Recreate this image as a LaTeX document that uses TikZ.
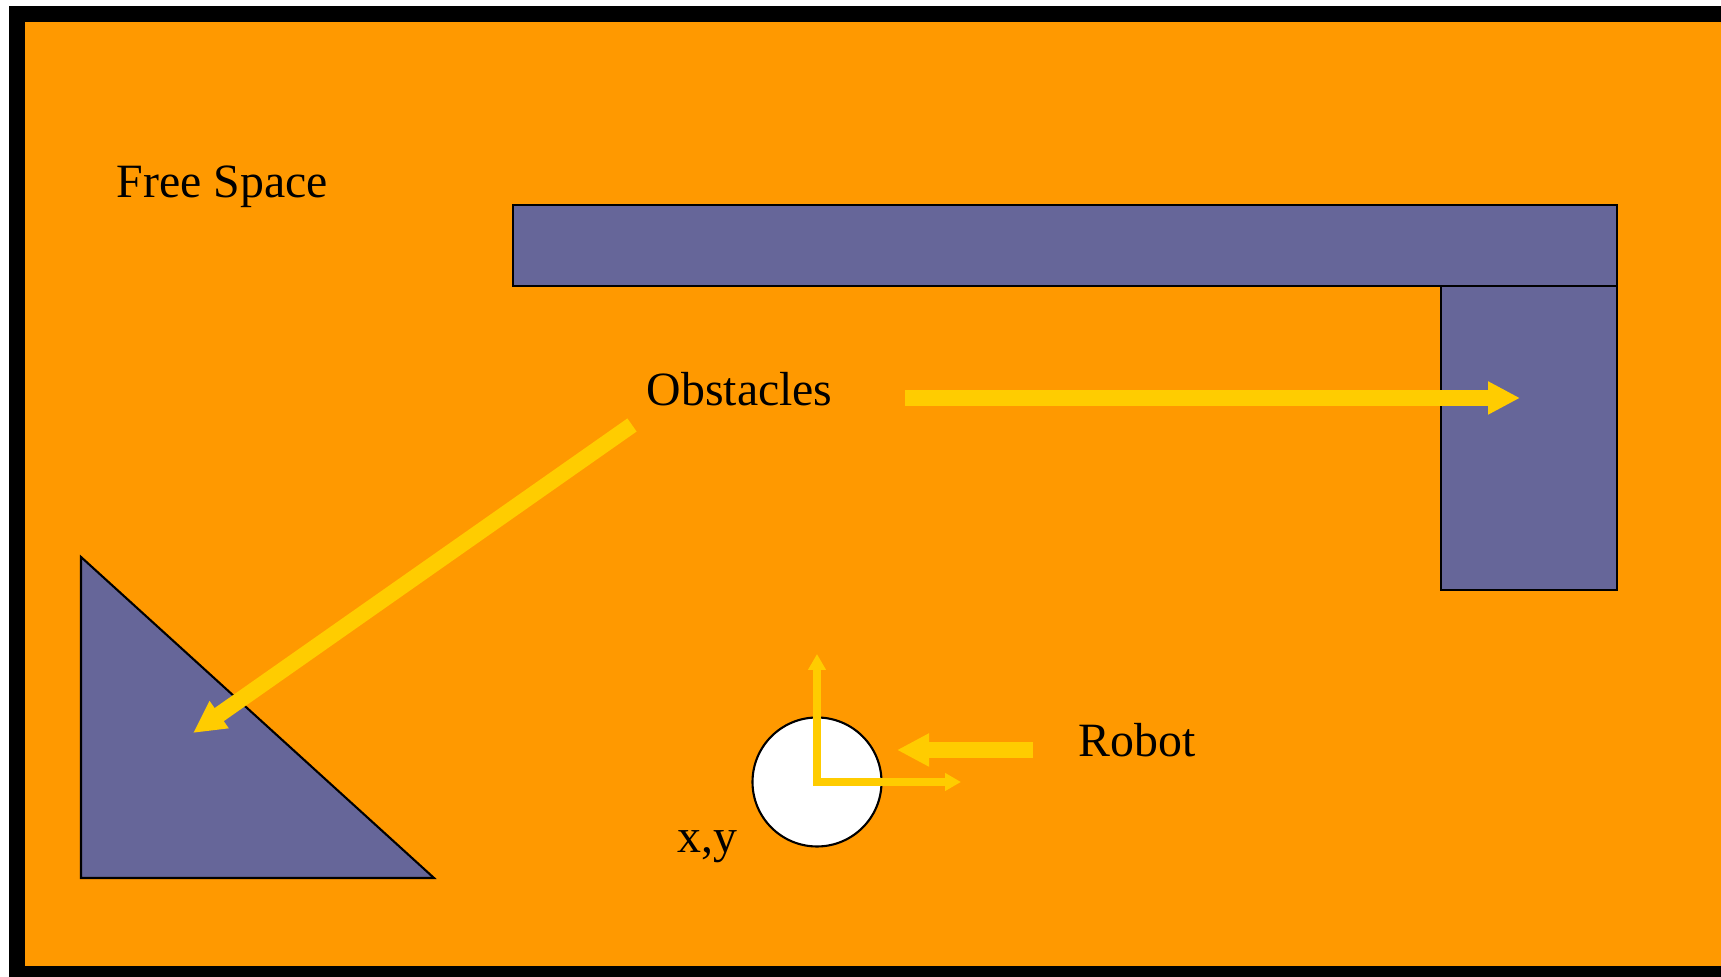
\documentclass[tikz,border=0pt]{standalone}
\usepackage{fontspec}
\setmainfont{Liberation Serif}
\usetikzlibrary{arrows.meta}

\definecolor{field}{HTML}{FF9900}
\definecolor{wall}{HTML}{666699}
\definecolor{pointer}{HTML}{FFCC00}

\tikzset{
  obstacle/.style={fill=wall, draw=black, line width=0.6pt},
  label/.style={anchor=base west, inner sep=0pt, font=\fontsize{13.6}{16}\selectfont},
  bigarrow/.style={draw=pointer, line width=0.16cm, -{Triangle[length=0.32cm, width=0.31cm]}},
  axis/.style={draw=pointer, line width=0.08cm, line cap=rect, -{Triangle[length=0.16cm, width=0.17cm]}}
}

\begin{document}
\begin{tikzpicture}
  \useasboundingbox (0,0) rectangle (17.21,9.77);
  \fill[white] (0,0) rectangle (17.21,9.77);
  % frame and free space
  \fill[black] (0.09,0) rectangle (17.21,9.71);
  \fill[field] (0.25,0.11) rectangle (17.21,9.55);
  \node[label] (free) at (1.16,7.79) {Free Space};

  % obstacles
  \draw[obstacle] (14.41,3.87) rectangle (16.17,7.72);
  \draw[obstacle] (5.13,6.91) rectangle (16.17,7.72);
  \draw[obstacle] (0.81,4.20) -- (0.81,0.99) -- (4.34,0.99) -- cycle;
  \node[label] (obst) at (6.46,5.71) {Obstacles};
  \coordinate (obstA) at (6.32,5.52);  \coordinate (triA) at (1.93,2.44);
  \coordinate (obstB) at (9.05,5.79);  \coordinate (blockB) at (15.20,5.79);
  \draw[bigarrow] (obstA) -- (triA);
  \draw[bigarrow] (obstB) -- (blockB);

  % robot with its frame
  \node[circle, draw=black, fill=white, line width=0.6pt, minimum size=1.29cm, inner sep=0pt] (body) at (8.17,1.95) {};
  \coordinate (yaxis) at (8.17,3.23);  \coordinate (xaxis) at (9.61,1.95);
  \draw[axis] (body.center) -- (yaxis);
  \draw[axis] (body.center) -- (xaxis);
  \node[label] (pose) at (6.77,1.24) {x,y};
  \node[label] (robot) at (10.78,2.20) {Robot};
  \coordinate (robotA) at (10.33,2.27);  \coordinate (bodyA) at (8.97,2.27);
  \draw[bigarrow] (robotA) -- (bodyA);
\end{tikzpicture}
\end{document}
